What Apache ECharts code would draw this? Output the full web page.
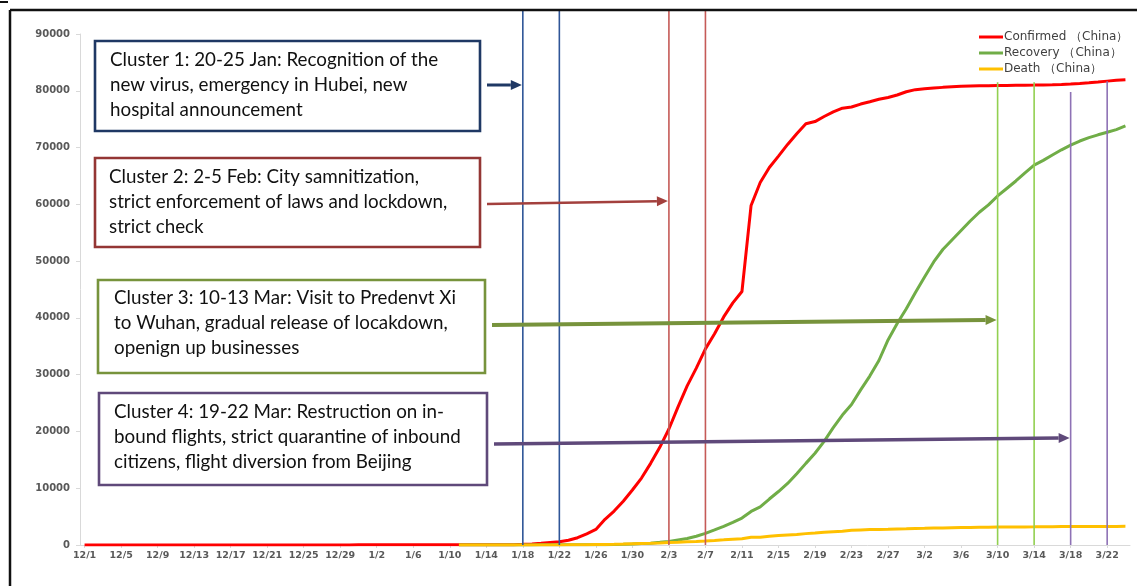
<!DOCTYPE html>
<html>
<head>
<meta charset="utf-8">
<script src="https://cdn.jsdelivr.net/npm/echarts@6/dist/echarts.min.js"></script>
<style>
html,body{margin:0;padding:0;background:#fff;}
#chart{width:1137px;height:586px;}
</style>
</head>
<body>
<div id="chart"></div>
<script>
const categories = [
'12/1','12/2','12/3','12/4','12/5','12/6','12/7','12/8','12/9','12/10','12/11','12/12','12/13','12/14','12/15','12/16','12/17','12/18','12/19','12/20','12/21','12/22','12/23','12/24','12/25','12/26','12/27','12/28','12/29','12/30','12/31',
'1/1','1/2','1/3','1/4','1/5','1/6','1/7','1/8','1/9','1/10','1/11','1/12','1/13','1/14','1/15','1/16','1/17','1/18','1/19','1/20','1/21','1/22','1/23','1/24','1/25','1/26','1/27','1/28','1/29','1/30','1/31',
'2/1','2/2','2/3','2/4','2/5','2/6','2/7','2/8','2/9','2/10','2/11','2/12','2/13','2/14','2/15','2/16','2/17','2/18','2/19','2/20','2/21','2/22','2/23','2/24','2/25','2/26','2/27','2/28','2/29',
'3/1','3/2','3/3','3/4','3/5','3/6','3/7','3/8','3/9','3/10','3/11','3/12','3/13','3/14','3/15','3/16','3/17','3/18','3/19','3/20','3/21','3/22','3/23','3/24'
];

const confirmed = [
0,0,0,0,0,0,0,0,0,0,0,0,0,0,0,0,0,0,0,0,0,0,0,0,0,0,0,0,0,0,27,
27,27,44,44,59,59,59,59,59,41,41,41,41,41,41,45,62,121,198,291,440,571,830,1287,1975,2744,4515,5974,7711,9692,11791,
14380,17205,20438,24324,28018,31161,34546,37198,40171,42638,44653,59804,63851,66492,68500,70548,72436,74185,74576,75465,76288,76936,77150,77658,78064,78497,78824,79251,79824,
80200,80350,80480,80600,80700,80800,80850,80880,80900,80920,80940,80960,80980,81000,81030,81070,81120,81200,81300,81420,81550,81700,81850,81950
];

const recovery = [
null,null,null,null,null,null,null,null,null,null,null,null,null,null,null,null,null,null,null,null,null,null,null,null,null,null,null,null,null,null,null,
null,null,null,null,null,null,null,null,null,null,0,0,0,0,0,0,0,0,0,25,25,28,34,38,49,51,60,103,124,171,243,
328,475,632,892,1153,1540,2050,2649,3281,3996,4740,5911,6723,8096,9419,10844,12552,14376,16155,18264,20659,22888,24734,27323,29745,32495,36117,39002,41625,
44462,47204,49856,52045,53726,55404,57065,58600,59897,61475,62793,64111,65541,66911,67749,68679,69601,70420,71150,71740,72244,72703,73159,73800
];

const death = [
null,null,null,null,null,null,null,null,null,null,null,null,null,null,null,null,null,null,null,null,null,null,null,null,null,null,null,null,null,null,null,
null,null,null,null,null,null,null,null,null,null,1,1,1,1,1,1,2,3,4,6,9,17,25,41,56,80,106,132,170,213,259,
304,361,425,490,562,632,717,804,904,1011,1111,1367,1380,1523,1665,1770,1868,2004,2118,2236,2345,2442,2592,2663,2715,2744,2788,2835,2870,
2912,2943,2981,3012,3042,3070,3097,3119,3136,3158,3169,3176,3189,3199,3213,3226,3237,3245,3248,3255,3261,3270,3277,3281
];

const seriesNames = ['Confirmed \uFF08China\uFF09','Recovery \uFF08China\uFF09','Death \uFF08China\uFF09'];

// vertical marker lines: date and the value where each starts (null = from the frame top)
const markerDates = ['1/18','1/22','2/3','2/7','3/10','3/14','3/18','3/22'];
const markerTops  = [null,null,null,null,81500,81500,79800,81700];

const clusterTexts = [
  'Cluster 1: 20-25 Jan: Recognition of the\nnew virus, emergency in Hubei, new\nhospital announcement',
  'Cluster 2: 2-5 Feb: City samnitization,\nstrict enforcement of laws and lockdown,\nstrict check',
  'Cluster 3: 10-13 Mar: Visit to Predenvt Xi\nto Wuhan, gradual release of locakdown,\nopenign up businesses',
  'Cluster 4: 19-22 Mar: Restruction on in-\nbound flights, strict quarantine of inbound\ncitizens, flight diversion from Beijing'
];
const clusterTargets = ['1/18','2/3','3/10','3/18'];

const markerColors = ['#2f5597','#2f5597','#c55a57','#c55a57','#92d050','#92d050','#8e72b5','#8e72b5'];
const boxStyles = [
  {x:95, y:41, w:385, h:90, color:'#1f3864', tx:110, ty:47, ay1:85, ay2:85, aw:3, ac:'#1f3864'},
  {x:95, y:158, w:385, h:89, color:'#943634', tx:109, ty:164, ay1:204, ay2:201, aw:2.5, ac:'#a3403d'},
  {x:98, y:280, w:387, h:93, color:'#77933c', tx:114, ty:285, ay1:325, ay2:320, aw:4, ac:'#77933c'},
  {x:99, y:393, w:388, h:92, color:'#5f497a', tx:114, ty:399, ay1:444, ay2:438, aw:3.5, ac:'#5f497a'}
];

const chart = echarts.init(document.getElementById('chart'), null, {renderer:'canvas'});
const labelColor = '#595959';
const option = {
  animation:false,
  backgroundColor:'#fff',
  grid:{left:80, right:7, top:34, bottom:41, containLabel:false},
  legend:{
    orient:'vertical', left:974, top:26, itemWidth:24, itemHeight:3, itemGap:4,
    icon:'rect',
    data:seriesNames,
    textStyle:{fontFamily:'DejaVu Sans', fontSize:12, color:'#404040', padding:[0,0,0,-4]}
  },
  xAxis:{
    type:'category', data:categories, boundaryGap:true,
    axisLine:{lineStyle:{color:'#d9d9d9', width:1}},
    axisTick:{show:true, interval:3, alignWithLabel:true, length:3, lineStyle:{color:'#d9d9d9'}},
    axisLabel:{interval:3, margin:6, fontFamily:'DejaVu Sans', fontWeight:'bold', fontSize:9.5, color:labelColor},
    splitLine:{show:false}
  },
  yAxis:{
    type:'value', min:0, max:90000, interval:10000,
    axisLine:{show:true, lineStyle:{color:'#d9d9d9'}},
    axisTick:{show:true, length:4, lineStyle:{color:'#d9d9d9'}},
    axisLabel:{margin:10, fontFamily:'DejaVu Sans', fontWeight:'bold', fontSize:10, color:labelColor,
      formatter:function(v){ return String(v); }},
    splitLine:{show:false}
  },
  series:[
    {name:seriesNames[0], type:'line', data:confirmed, showSymbol:false, symbol:'none', color:'#ff0000', lineStyle:{width:3, color:'#ff0000'}},
    {name:seriesNames[1], type:'line', data:recovery, showSymbol:false, symbol:'none', color:'#70ad47', lineStyle:{width:3, color:'#70ad47'}},
    {name:seriesNames[2], type:'line', data:death, showSymbol:false, symbol:'none', color:'#ffc000', lineStyle:{width:3, color:'#ffc000'}}
  ]
};
chart.setOption(option);

function px(date){ return chart.convertToPixel({xAxisIndex:0}, date); }
function py(v){ return chart.convertToPixel({yAxisIndex:0}, v); }

function arrow(x1,y1,x2,y2,color,w,headLen,headW){
  const ang = Math.atan2(y2-y1, x2-x1);
  const bx = x2 - headLen*Math.cos(ang), by = y2 - headLen*Math.sin(ang);
  const nx = -Math.sin(ang)*headW, ny = Math.cos(ang)*headW;
  return [
    {type:'line', z:20, shape:{x1:x1,y1:y1,x2:bx,y2:by}, style:{stroke:color, lineWidth:w}},
    {type:'polygon', z:20, shape:{points:[[x2,y2],[bx+nx,by+ny],[bx-nx,by-ny]]}, style:{fill:color}}
  ];
}

const g = [];
const baseY = py(0);
markerDates.forEach((d,i)=>{
  const x = px(d);
  const top = markerTops[i] === null ? 10 : py(markerTops[i]);
  g.push({type:'line', z:5, shape:{x1:x, y1:top, x2:x, y2:baseY}, style:{stroke:markerColors[i], lineWidth:1.6}});
});
boxStyles.forEach((b,i)=>{
  g.push({type:'rect', z:15, shape:{x:b.x, y:b.y, width:b.w, height:b.h}, style:{fill:'#fff', stroke:b.color, lineWidth:2.6}});
  g.push({type:'text', z:16, x:b.tx, y:b.ty, style:{text:clusterTexts[i], fontFamily:'Lato', fontSize:18.8, lineHeight:25, fill:'#111', verticalAlign:'top', align:'left'}});
  const tx = px(clusterTargets[i]) - 1;
  arrow(b.x+b.w+7, b.ay1, tx, b.ay2, b.ac, b.aw, 11, 5).forEach(e=>g.push(e));
});
// outer frame
g.push({type:'line', z:30, shape:{x1:10, y1:10, x2:1137, y2:10}, style:{stroke:'#111', lineWidth:2.5}});
g.push({type:'line', z:30, shape:{x1:10, y1:10, x2:10, y2:586}, style:{stroke:'#111', lineWidth:2.5}});
g.push({type:'line', z:30, shape:{x1:0, y1:2, x2:8, y2:2}, style:{stroke:'#111', lineWidth:2}});

chart.setOption({graphic:g});
</script>
</body>
</html>
